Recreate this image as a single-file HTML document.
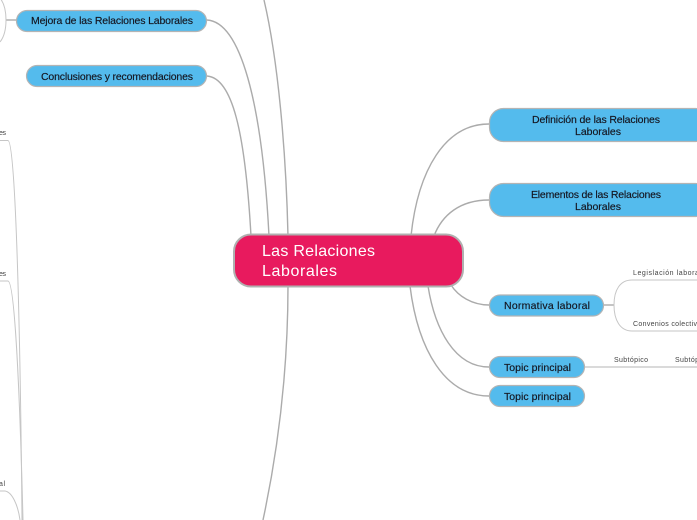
<!DOCTYPE html>
<html>
<head>
<meta charset="utf-8">
<style>
html,body{margin:0;padding:0;background:#fff;width:697px;height:520px;overflow:hidden}
svg{display:block}
text{font-family:"Liberation Sans",sans-serif;fill:#14141e}
.n{font-size:10.5px;stroke:#14141e;stroke-width:.15px}
.s{font-size:7px;fill:#444}
.c{font-size:16px;fill:#fff}
</style>
</head>
<body>
<svg width="697" height="520" viewBox="0 0 697 520" xmlns="http://www.w3.org/2000/svg">
<g fill="none" stroke="#ababab" stroke-width="1.4">
<path d="M411 236C418 170 445 124 489 124"/>
<path d="M434 236C442 215 460 200 489 200"/>
<path d="M451 285C458 296 472 305 489 305"/>
<path d="M428 286C435 330 455 367 489 367"/>
<path d="M410 286C418 350 445 396 489 396"/>
<path d="M207 76C232 78 245 130 251 236"/>
<path d="M207 20C240 22 262 100 269 236"/>
<path d="M288 236C286 150 278 60 264 0"/>
<path d="M288 285C288 370 278 450 263 520"/>
<path d="M603 305H614"/>
<path d="M6 20H16"/>
</g>
<path d="M584 367H697" stroke="#c4c4c4" stroke-width="1.200" fill="none"/>
<g fill="none" stroke="#c6c6c6" stroke-width="1">
<path d="M697 280H632C620 280 614 290 614 305C614 320 620 331 632 331H697"/>
<path d="M0 140.500H8C15 141 20 300 22 520"/>
<path d="M0 281H8C15 282 20 400 23 520"/>
<path d="M0 491H5C12 492 18 505 20 520"/>
<path d="M0 -2C4 3 6 10 6 20C6 30 4 37 0 42"/>
</g>

<rect x="234" y="234.500" width="229" height="52" rx="17" fill="#e81a5e" stroke="#b0b0b0" stroke-width="2"/>
<text class="c" x="262" y="256" textLength="113" lengthAdjust="spacing">Las Relaciones</text>
<text class="c" x="262" y="276" textLength="75" lengthAdjust="spacing">Laborales</text>

<g fill="#54bbed" stroke="#b4b4b4" stroke-width="1.200">
<rect x="16.500" y="10.500" width="190" height="21" rx="10.500"/>
<rect x="26.500" y="65.500" width="180" height="21" rx="10.500"/>
<rect x="489.500" y="108.500" width="220" height="33" rx="14"/>
<rect x="489.500" y="183.500" width="220" height="33" rx="14"/>
<rect x="489.500" y="295" width="114" height="21" rx="10.500"/>
<rect x="489.500" y="356.500" width="95" height="21" rx="10.500"/>
<rect x="489.500" y="385.500" width="95" height="21" rx="10.500"/>
</g>

<text class="n" x="31" y="24" textLength="162" lengthAdjust="spacing">Mejora de las Relaciones Laborales</text>
<text class="n" x="41" y="80" textLength="152" lengthAdjust="spacing">Conclusiones y recomendaciones</text>
<text class="n" x="532" y="123" textLength="128" lengthAdjust="spacing">Definición de las Relaciones</text>
<text class="n" x="575" y="135" textLength="46" lengthAdjust="spacing">Laborales</text>
<text class="n" x="531" y="198" textLength="130" lengthAdjust="spacing">Elementos de las Relaciones</text>
<text class="n" x="575" y="210" textLength="46" lengthAdjust="spacing">Laborales</text>
<text class="n" x="504" y="309" textLength="86" lengthAdjust="spacing">Normativa laboral</text>
<text class="n" x="504" y="371" textLength="67" lengthAdjust="spacing">Topic principal</text>
<text class="n" x="504" y="400" textLength="67" lengthAdjust="spacing">Topic principal</text>

<text class="s" x="633" y="275" textLength="68" lengthAdjust="spacing">Legislación laboral</text>
<text class="s" x="633" y="326" textLength="72" lengthAdjust="spacing">Convenios colectivos</text>
<text class="s" x="614" y="362" textLength="34" lengthAdjust="spacing">Subtópico</text>
<text class="s" x="675" y="362" textLength="34" lengthAdjust="spacing">Subtópico</text>
<text class="s" x="-1" y="135" textLength="7" lengthAdjust="spacing">es</text>
<text class="s" x="-1" y="276" textLength="7" lengthAdjust="spacing">es</text>
<text class="s" x="-1" y="486" textLength="6" lengthAdjust="spacing">al</text>
</svg>
</body>
</html>
